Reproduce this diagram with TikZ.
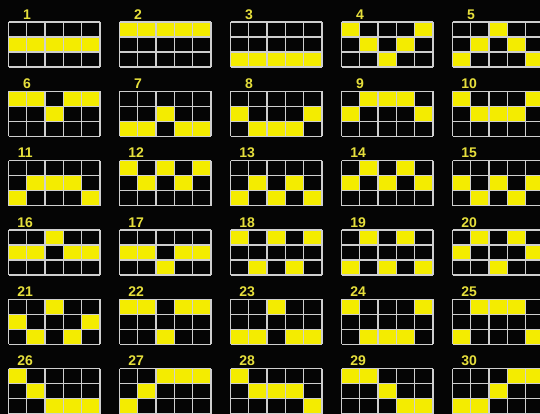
\documentclass[tikz,border=0pt]{standalone}
\usepackage{fontspec}
\setmainfont{Liberation Sans}
\definecolor{bg}{HTML}{050505}
\definecolor{cellyel}{HTML}{F4EC00}
\definecolor{lab}{HTML}{E6DF3C}
\definecolor{gl}{HTML}{CFCFCF}
\begin{document}
\begin{tikzpicture}[x=1pt,y=-1pt]
\tikzset{
  lbl/.style={text=lab,font=\bfseries\fontsize{14}{15}\selectfont,inner sep=0pt,anchor=center},
  gridln/.style={draw=gl,line width=1.3pt},
  yelcell/.style={fill=cellyel}
}
\useasboundingbox (0,0) rectangle (540,414);
\clip (0,0) rectangle (540,414);
\fill[bg] (0,0) rectangle (540,414);
\foreach \n/\a/\b/\c/\d/\e in {
  1/1/1/1/1/1, 2/0/0/0/0/0, 3/2/2/2/2/2, 4/0/1/2/1/0, 5/2/1/0/1/2,
  6/0/0/1/0/0, 7/2/2/1/2/2, 8/1/2/2/2/1, 9/1/0/0/0/1, 10/0/1/1/1/0,
  11/2/1/1/1/2, 12/0/1/0/1/0, 13/2/1/2/1/2, 14/1/0/1/0/1, 15/1/2/1/2/1,
  16/1/1/0/1/1, 17/1/1/2/1/1, 18/0/2/0/2/0, 19/2/0/2/0/2, 20/1/0/2/0/1,
  21/1/2/0/2/1, 22/0/0/2/0/0, 23/2/2/0/2/2, 24/0/2/2/2/0, 25/2/0/0/0/2,
  26/0/1/2/2/2, 27/2/1/0/0/0, 28/0/1/1/1/2, 29/0/0/1/2/2, 30/2/2/1/0/0}{
  \pgfmathtruncatemacro\ci{mod(\n-1,5)}
  \pgfmathtruncatemacro\ri{(\n-1)/5}
  \pgfmathsetmacro\gx{8.5+111*\ci}
  \pgfmathsetmacro\gy{22+69.3*\ri}
  \pgfmathsetmacro\lo{\n<10 ? 18.5 : 16.7}
  \foreach \k/\r in {0/\a,1/\b,2/\c,3/\d,4/\e}
    \fill[yelcell] (\gx+\k*18.3,\gy+\r*15) rectangle ++(18.3,15);
  \foreach \k in {0,...,5}
    \draw[gridln] (\gx+\k*18.3,\gy) -- ++(0,45);
  \foreach \k in {0,...,3}
    \draw[gridln] (\gx,\gy+\k*15) -- ++(91.5,0);
  \node[lbl] (L\n) at (\gx+\lo,\gy-7.6) {\n};
}
\end{tikzpicture}
\end{document}
